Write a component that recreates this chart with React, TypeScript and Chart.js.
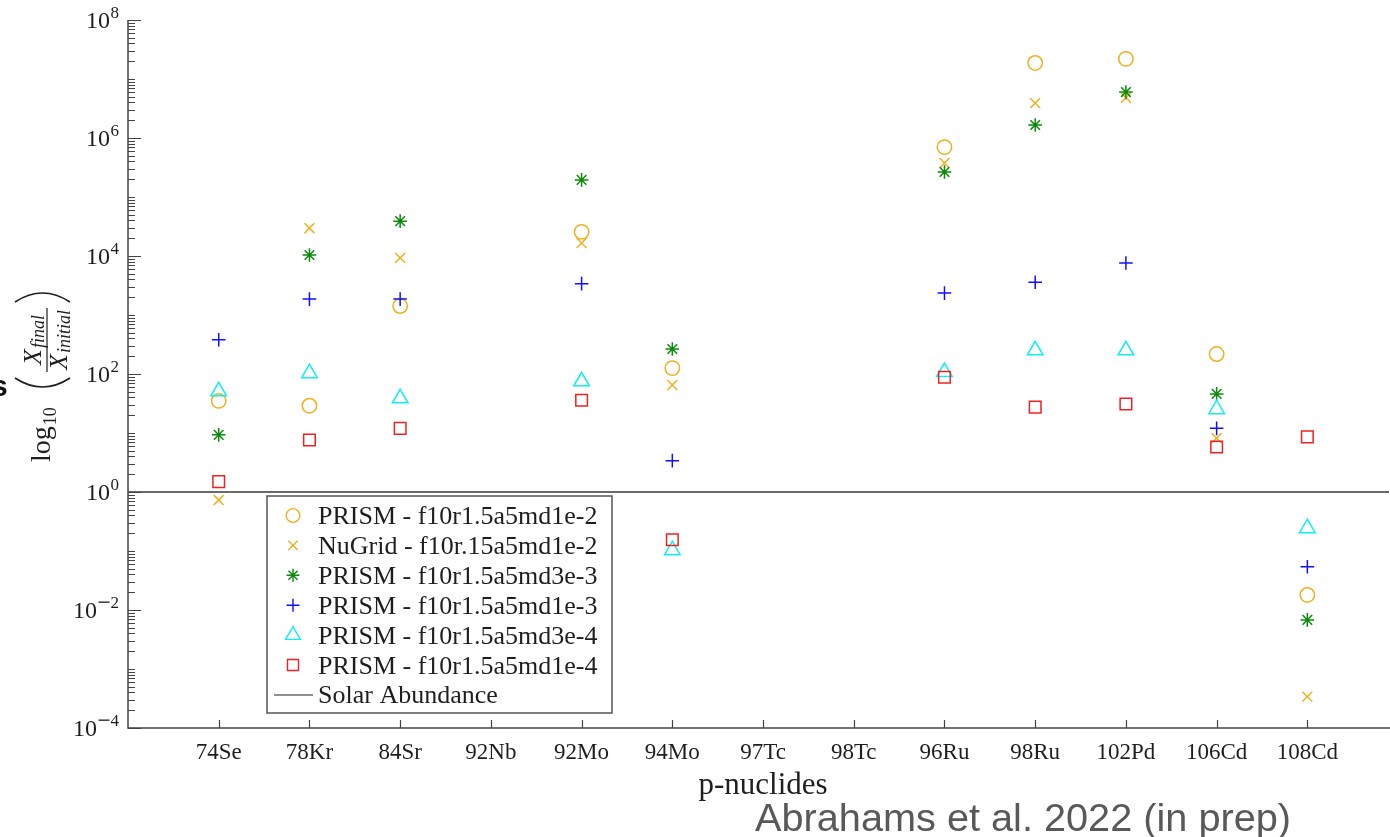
import React, { useEffect, useRef } from 'react';
import { Chart, registerables } from 'chart.js';
import { drawPoint } from 'chart.js/helpers';

Chart.register(...registerables);

// ---------------- data ----------------
const categories = ['74Se', '78Kr', '84Sr', '92Nb', '92Mo', '94Mo', '97Tc', '98Tc', '96Ru', '98Ru', '102Pd', '106Cd', '108Cd'];

const prismMd1e2 = [35, 29, 1420, null, 25600, 126, null, null, 7.0e5, 1.87e7, 2.19e7, 218, 0.018];
const nugridMd1e2 = [0.73, 2.96e4, 9.3e3, null, 1.66e4, 65, null, null, 3.77e5, 3.9e6, 4.8e6, 8.2, 3.4e-4];
const prismMd3e3 = [9.3, 1.04e4, 3.9e4, null, 1.95e5, 265, null, null, 2.65e5, 1.66e6, 6.0e6, 46, 0.0068];
const prismMd1e3 = [380, 1860, 1860, null, 3400, 3.4, null, null, 2350, 3600, 7600, 12, 0.054];
const prismMd3e4 = [51, 103, 38.8, null, 75, 0.103, null, null, 108, 252, 252, 25.3, 0.243];
const prismMd1e4 = [1.5, 7.6, 12, null, 36, 0.155, null, null, 88, 27.5, 31, 5.8, 8.6];

const solarAbundance = 1;
const yTickExponents = [-4, -2, 0, 2, 4, 6, 8];

const seriesLabels = [
  'PRISM - f10r1.5a5md1e-2',
  'NuGrid - f10r.15a5md1e-2',
  'PRISM - f10r1.5a5md3e-3',
  'PRISM - f10r1.5a5md1e-3',
  'PRISM - f10r1.5a5md3e-4',
  'PRISM - f10r1.5a5md1e-4',
];
const solarLabel = 'Solar Abundance';
const xTitle = 'p-nuclides';
const credit = 'Abrahams et al. 2022 (in prep)';

// ---------------- styles ----------------
const YELLOW = '#EDB120';
const GREEN = '#0c8a0c';
const BLUE = '#1010ff';
const CYAN = '#10eeee';
const RED = '#ee2222';
const AXIS = '#444444';
const TEXT = '#1e1e1e';
const SERIF = '"Liberation Serif", "DejaVu Serif", serif';

const seriesValues = [prismMd1e2, nugridMd1e2, prismMd3e3, prismMd1e3, prismMd3e4, prismMd1e4];
const seriesStyles = ['circle', 'crossRot', 'star', 'cross', 'triangle', 'rect'];
const seriesColors = [YELLOW, YELLOW, GREEN, BLUE, CYAN, RED];
const seriesRadius = [7.2, 7, 6.8, 6.8, 9, 8.2];

function toPoints(vals: (number | null)[]) {
  const pts: { x: number; y: number }[] = [];
  vals.forEach((v, i) => {
    if (v !== null && v !== undefined) pts.push({ x: i, y: v });
  });
  return pts;
}

const markerDatasets = seriesValues.map((vals, k) => ({
  type: 'scatter' as const,
  label: seriesLabels[k],
  data: toPoints(vals),
  pointStyle: seriesStyles[k],
  pointRadius: seriesRadius[k],
  pointBorderWidth: 1.5,
  pointBorderColor: seriesColors[k],
  pointBackgroundColor: 'rgba(0,0,0,0)',
  borderColor: seriesColors[k],
  backgroundColor: 'rgba(0,0,0,0)',
  showLine: false,
  order: 6 - k,
}));

const solarDataset = {
  type: 'line' as const,
  label: solarLabel,
  data: [
    { x: -1, y: solarAbundance },
    { x: 14, y: solarAbundance },
  ],
  borderColor: '#6a6a6a',
  borderWidth: 2,
  pointRadius: 0,
  showLine: true,
  fill: false,
  order: 20,
};

function drawYTitle(ctx: CanvasRenderingContext2D) {
  ctx.save();
  ctx.translate(0, 462);
  ctx.rotate(-Math.PI / 2);
  ctx.fillStyle = TEXT;
  ctx.strokeStyle = TEXT;
  ctx.textAlign = 'left';
  ctx.textBaseline = 'alphabetic';
  ctx.font = `28px ${SERIF}`;
  ctx.fillText('log', 0, 50);
  const lw = ctx.measureText('log').width;
  ctx.font = `18px ${SERIF}`;
  ctx.fillText('10', lw + 1, 56);

  // big parentheses
  ctx.lineWidth = 1.7;
  ctx.beginPath();
  ctx.moveTo(84, 15);
  ctx.quadraticCurveTo(66, 42.5, 84, 70);
  ctx.stroke();
  ctx.beginPath();
  ctx.moveTo(160, 15);
  ctx.quadraticCurveTo(178, 42.5, 160, 70);
  ctx.stroke();

  // fraction
  const cu = 122;
  const xFont = `italic 26px ${SERIF}`;
  const sFont = `italic 18px ${SERIF}`;
  ctx.font = xFont;
  const xw = ctx.measureText('X').width;
  ctx.font = sFont;
  const fw = ctx.measureText('final').width;
  const iw = ctx.measureText('initial').width;
  const numW = xw + fw + 1;
  const denW = xw + iw + 1;
  const barW = Math.max(numW, denW) + 4;
  ctx.lineWidth = 1.2;
  ctx.beginPath();
  ctx.moveTo(cu - barW / 2, 47);
  ctx.lineTo(cu + barW / 2, 47);
  ctx.stroke();
  let u0 = cu - numW / 2;
  ctx.font = xFont;
  ctx.fillText('X', u0, 41);
  ctx.font = sFont;
  ctx.fillText('final', u0 + xw + 1, 44);
  u0 = cu - denW / 2;
  ctx.font = xFont;
  ctx.fillText('X', u0, 67);
  ctx.font = sFont;
  ctx.fillText('initial', u0 + xw + 1, 70);
  ctx.restore();
}

const decorPlugin = {
  id: 'decor',
  afterDraw(chart: any) {
    const ctx: CanvasRenderingContext2D = chart.ctx;
    const { left, top, bottom } = chart.chartArea;
    const xs = chart.scales.x;
    const ys = chart.scales.y;
    ctx.save();

    // axis lines
    ctx.strokeStyle = AXIS;
    ctx.lineWidth = 1.5;
    ctx.beginPath();
    ctx.moveTo(left, top);
    ctx.lineTo(left, bottom);
    ctx.lineTo(1390, bottom);
    ctx.stroke();

    // y ticks (inward)
    ctx.lineWidth = 1.2;
    ctx.beginPath();
    for (let e = -4; e <= 7; e++) {
      for (let m = 1; m <= 9; m++) {
        const v = m * Math.pow(10, e);
        const y = Math.round(ys.getPixelForValue(v)) + 0.5;
        const major = m === 1 && yTickExponents.includes(e);
        ctx.moveTo(left, y);
        ctx.lineTo(left + (major ? 13 : 7), y);
      }
    }
    const yTop = Math.round(ys.getPixelForValue(1e8)) + 0.5;
    ctx.moveTo(left, yTop);
    ctx.lineTo(left + 13, yTop);
    ctx.stroke();

    // x ticks (inward)
    ctx.beginPath();
    categories.forEach((_, i) => {
      const x = Math.round(xs.getPixelForValue(i)) + 0.5;
      ctx.moveTo(x, bottom);
      ctx.lineTo(x, bottom - 8);
    });
    ctx.stroke();

    // y tick labels 10^e
    ctx.fillStyle = TEXT;
    ctx.textBaseline = 'alphabetic';
    yTickExponents.forEach((e) => {
      const y = ys.getPixelForValue(Math.pow(10, e));
      const rightEdge = 119;
      ctx.font = `17px ${SERIF}`;
      const digit = String(Math.abs(e));
      const dw = ctx.measureText(digit).width;
      let supW = dw;
      const minusW = 12;
      if (e < 0) supW += minusW + 1;
      ctx.textAlign = 'left';
      const sx = rightEdge - supW;
      if (e < 0) {
        ctx.fillRect(sx + 1, y - 8.5, minusW - 1, 1.3);
        ctx.fillText(digit, sx + minusW + 1, y - 2);
      } else {
        ctx.fillText(digit, sx, y - 2);
      }
      ctx.font = `24px ${SERIF}`;
      ctx.textAlign = 'right';
      ctx.fillText('10', sx - 0.5, y + 8);
    });

    // x tick labels
    ctx.font = `23px ${SERIF}`;
    ctx.textAlign = 'center';
    categories.forEach((c, i) => {
      ctx.fillText(c, xs.getPixelForValue(i), 759);
    });

    // x title
    ctx.font = `31px ${SERIF}`;
    ctx.fillText(xTitle, 763, 794);

    // y title
    drawYTitle(ctx);

    // legend
    const bx = 267, by = 496, bw = 345, bh = 217;
    ctx.fillStyle = '#ffffff';
    ctx.fillRect(bx, by, bw, bh);
    ctx.strokeStyle = '#555555';
    ctx.lineWidth = 1.5;
    ctx.strokeRect(bx, by, bw, bh);
    const rowY0 = 515.5;
    const rowStep = 29.9;
    chart.data.datasets.forEach((ds: any, k: number) => {
      const y = rowY0 + k * rowStep;
      if (ds.type === 'line') {
        ctx.strokeStyle = ds.borderColor;
        ctx.lineWidth = 1.5;
        ctx.beginPath();
        ctx.moveTo(274, y);
        ctx.lineTo(313, y);
        ctx.stroke();
      } else {
        ctx.strokeStyle = ds.pointBorderColor;
        ctx.fillStyle = 'rgba(0,0,0,0)';
        ctx.lineWidth = 1.4;
        drawPoint(ctx, { pointStyle: ds.pointStyle, radius: ds.pointRadius * 0.95, rotation: 0, borderWidth: 1.4 } as any, 293, y);
      }
      ctx.fillStyle = TEXT;
      ctx.font = `26px ${SERIF}`;
      ctx.textAlign = 'left';
      ctx.fillText(ds.label, 318, y + 8.5);
    });

    // credit
    ctx.fillStyle = '#595959';
    ctx.font = '39.7px "Liberation Sans", Arial, sans-serif';
    ctx.textAlign = 'left';
    ctx.fillText(credit, 755, 831);

    // clipped slide artefact at the left edge
    ctx.fillStyle = '#111';
    ctx.font = 'bold 30px "Liberation Sans", sans-serif';
    ctx.fillText('s', -9, 396);

    ctx.restore();
  },
};

export default function App() {
  const ref = useRef<HTMLCanvasElement>(null);
  useEffect(() => {
    const canvas = ref.current;
    if (!canvas) return;
    const chart = new Chart(canvas, {
      type: 'scatter',
      data: { datasets: [...markerDatasets, solarDataset] as any },
      options: {
        responsive: false,
        maintainAspectRatio: false,
        animation: false,
        devicePixelRatio: 1,
        events: [],
        layout: { autoPadding: false, padding: { left: 128, top: 20, right: 1, bottom: 109 } },
        scales: {
          x: { type: 'linear', min: -1, max: 12.9, display: false },
          y: { type: 'logarithmic', min: 1e-4, max: 1e8, display: false },
        },
        plugins: { legend: { display: false }, tooltip: { enabled: false } },
      },
      plugins: [decorPlugin],
    });
    return () => chart.destroy();
  }, []);
  return (
    <div style={{ position: 'absolute', left: 0, top: 0, width: 1390, height: 837, background: '#fff' }}>
      <canvas ref={ref} width={1390} height={837} style={{ display: 'block', width: 1390, height: 837 }} />
    </div>
  );
}
